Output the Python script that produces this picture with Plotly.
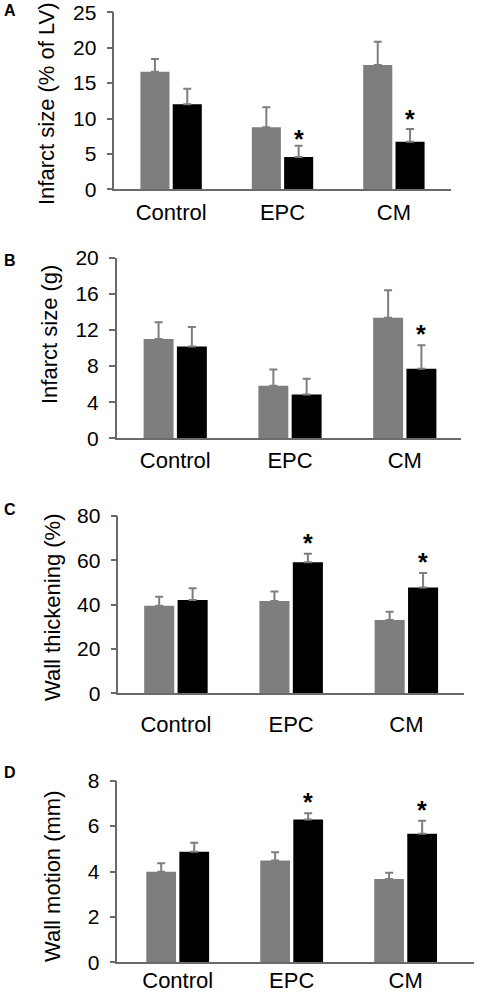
import plotly.graph_objects as go

W, H = 480, 995

categories = ["Control", "EPC", "CM"]

# Panel A: Infarct size (% of LV)
a_gray = [16.6, 8.75, 17.55]
a_gray_err = [1.8, 2.85, 3.3]
a_black = [12.0, 4.56, 6.7]
a_black_err = [2.2, 1.6, 1.8]
a_star_cats = [1, 2]
a_star_y = [7.8, 10.6]

# Panel B: Infarct size (g)
b_gray = [11.0, 5.83, 13.36]
b_gray_err = [1.84, 1.8, 3.04]
b_black = [10.17, 4.84, 7.7]
b_black_err = [2.16, 1.76, 2.6]
b_star_cats = [2]
b_star_y = [12.1]

# Panel C: Wall thickening (%)
c_gray = [39.5, 41.65, 33.1]
c_gray_err = [4.1, 4.25, 3.7]
c_black = [42.1, 59.1, 47.7]
c_black_err = [5.3, 3.9, 6.6]
c_star_cats = [1, 2]
c_star_y = [69.9, 61.6]

# Panel D: Wall motion (mm)
d_gray = [3.99, 4.49, 3.67]
d_gray_err = [0.37, 0.36, 0.28]
d_black = [4.87, 6.29, 5.66]
d_black_err = [0.40, 0.28, 0.58]
d_star_cats = [1, 2]
d_star_y = [7.28, 6.92]

y_titles = ["Infarct size (% of LV)", "Infarct size (g)", "Wall thickening (%)", "Wall motion (mm)"]
panel_letters = ["A", "B", "C", "D"]
y_ranges = [[0, 25], [0, 20], [0, 80], [0, 8]]
y_dticks = [5, 4, 20, 2]

GRAY = "#7e7e7e"
BLACK = "#000000"
AXIS = "#6a6a6a"
FONT = "Liberation Sans, Arial, Helvetica, sans-serif"
BARGAP = 0.42

# layout geometry in pixels (left, right, top, bottom)
boxes = [
    (114.3, 450.7, 12.3, 189.3),
    (116.7, 461.0, 257.7, 438.3),
    (118.3, 464.0, 516.0, 693.3),
    (117.3, 474.0, 780.7, 962.3),
]
x_ranges = [[-0.51, 2.51], [-0.51, 2.49], [-0.5, 2.5], [-0.53, 2.6]]
xlabel_standoff = [3, 2, 11, -2]
title_x = [47, 49, 52, 52]
title_y = [104, 335, 608, 876]
letter_y = [10, 260, 509, 772]

panels = [
    (a_gray, a_gray_err, a_black, a_black_err, a_star_cats, a_star_y),
    (b_gray, b_gray_err, b_black, b_black_err, b_star_cats, b_star_y),
    (c_gray, c_gray_err, c_black, c_black_err, c_star_cats, c_star_y),
    (d_gray, d_gray_err, d_black, d_black_err, d_star_cats, d_star_y),
]

fig = go.Figure()
annotations = []
layout = {}

for i, (g, ge, b, be, sc, sy) in enumerate(panels):
    n = "" if i == 0 else str(i + 1)
    xa, ya = "x" + n, "y" + n
    for vals, errs, col in ((g, ge, GRAY), (b, be, BLACK)):
        fig.add_trace(go.Bar(
            x=categories, y=vals, xaxis=xa, yaxis=ya, marker_color=col,
            marker_line_width=0, showlegend=False, offsetgroup=col, hoverinfo="skip",
            error_y=dict(type="data", array=errs, arrayminus=[0] * len(errs),
                         symmetric=False, color=GRAY, thickness=2, width=4),
        ))
    l, r, t, bt = boxes[i]
    layout["xaxis" + n] = dict(
        domain=[l / W, r / W], anchor=ya, type="category", range=x_ranges[i],
        showline=True, linecolor=AXIS, linewidth=1.5, ticks="", automargin=False,
        ticklabelstandoff=xlabel_standoff[i],
        tickfont=dict(family=FONT, size=22, color="#000"), showgrid=False, zeroline=False,
    )
    layout["yaxis" + n] = dict(
        domain=[1 - bt / H, 1 - t / H], anchor=xa, range=y_ranges[i], dtick=y_dticks[i],
        showline=True, linecolor=AXIS, linewidth=1.5, ticks="outside", ticklen=6,
        tickwidth=1.5, tickcolor=AXIS, ticklabelstandoff=6, automargin=False,
        tickfont=dict(family=FONT, size=21, color="#000"), showgrid=False, zeroline=False,
    )
    annotations.append(dict(
        text=y_titles[i], xref="paper", yref="paper", x=title_x[i] / W, y=1 - title_y[i] / H,
        xanchor="center", yanchor="middle", textangle=-90, showarrow=False,
        font=dict(family=FONT, size=22, color="#000"),
    ))
    annotations.append(dict(
        text="<b>" + panel_letters[i] + "</b>", xref="paper", yref="paper",
        x=2 / W, y=1 - letter_y[i] / H, xanchor="left", yanchor="middle", showarrow=False,
        font=dict(family=FONT, size=16, color="#000"),
    ))
    for c, yv in zip(sc, sy):
        annotations.append(dict(
            text="<b>*</b>", xref=xa, yref=ya, x=c + (1 - BARGAP) / 4, y=yv,
            xanchor="center", yanchor="middle", yshift=-5, showarrow=False,
            font=dict(family=FONT, size=25, color="#000"),
        ))

fig.update_layout(
    width=W, height=H, margin=dict(l=0, r=0, t=0, b=0, autoexpand=False),
    paper_bgcolor="white", plot_bgcolor="white",
    barmode="group", bargap=BARGAP, bargroupgap=0.1,
    annotations=annotations, **layout,
)

fig.write_html(
    "out.html",
    config={"displayModeBar": False},
    post_script="document.body.style.margin='0';document.body.style.overflow='hidden';",
)
